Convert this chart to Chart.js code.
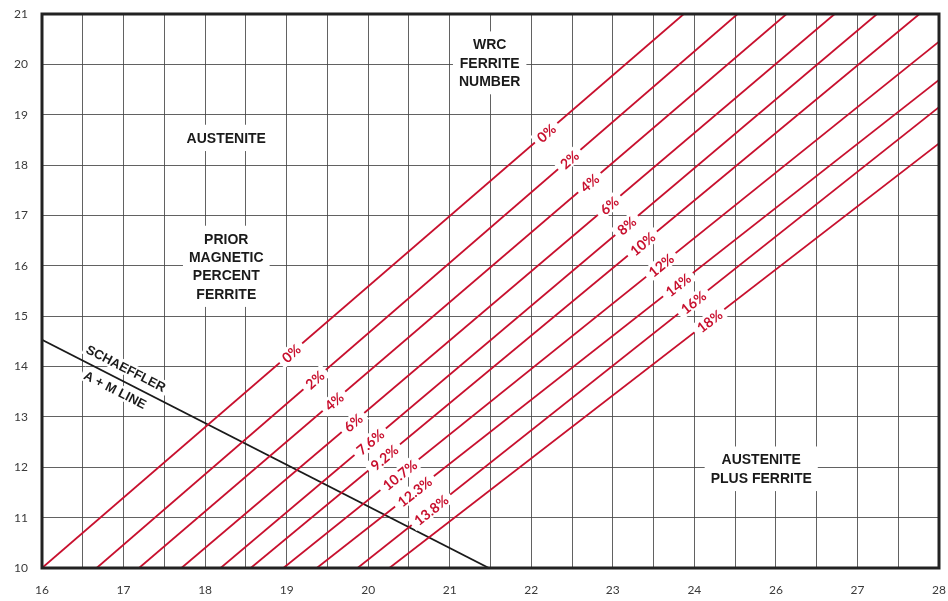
<!DOCTYPE html>
<html>
<head>
<meta charset="utf-8">
<script src="https://cdn.jsdelivr.net/npm/chart.js@4/dist/chart.umd.min.js"></script>
<style>
  html, body { margin: 0; padding: 0; background: #fff; }
  #wrap { width: 948px; height: 601px; }
</style>
</head>
<body>
<div id="wrap"><canvas id="c" width="948" height="601"></canvas></div>
<script>
// Axis tick labels (Nickel equivalent along x, Chromium equivalent along y)
const xTickLabels = ['16', '17', '18', '19', '20', '21', '22', '23', '24', '26', '27', '28'];
const yMin = 10;
const yMax = 21;

// Iso-ferrite lines: start point on the bottom edge, end point on the top or right edge
const lineStartX = [16.00, 16.67, 17.19, 17.71, 18.19, 18.56, 18.96, 19.37, 19.87, 20.26];
const lineEndX   = [23.87, 24.53, 25.13, 25.72, 26.24, 26.76, 27.00, 27.00, 27.00, 27.00];
const lineEndY   = [21.00, 21.00, 21.00, 21.00, 21.00, 21.00, 20.45, 19.69, 19.15, 18.43];

// WRC ferrite number of each line, and the prior magnetic percent ferrite
const wrcLabels   = ['0%', '2%', '4%', '6%', '8%', '10%', '12%', '14%', '16%', '18%'];
const priorLabels = ['0%', '2%', '4%', '6%', '7.6%', '9.2%', '10.7%', '12.3%', '13.8%'];

// Schaeffler austenite + martensite boundary
const schaefflerX = [16.00, 21.48];
const schaefflerY = [14.53, 10.00];

// Diagonal guides along which the two rows of line labels sit
const wrcGuide   = [{ x: 22.15, y: 18.70 }, { x: 24.20, y: 14.88 }];
const priorGuide = [{ x: 19.04, y: 14.29 }, { x: 20.74, y: 11.21 }];

// Region captions
const regionText = [
  { lines: ['AUSTENITE'], x: 18.26, y: 18.54 },
  { lines: ['PRIOR', 'MAGNETIC', 'PERCENT', 'FERRITE'], x: 18.26, y: 15.99 },
  { lines: ['WRC', 'FERRITE', 'NUMBER'], x: 21.49, y: 20.03 },
  { lines: ['AUSTENITE', 'PLUS FERRITE'], x: 24.82, y: 11.97 }
];

const RED = '#c8102e';
const INK = '#1a1a1a';

const datasets = lineStartX.map((sx, i) => ({
  data: [{ x: sx, y: yMin }, { x: lineEndX[i], y: lineEndY[i] }],
  showLine: true,
  borderColor: RED,
  borderWidth: 1.8,
  pointRadius: 0
}));
datasets.push({
  data: schaefflerX.map((x, i) => ({ x, y: schaefflerY[i] })),
  showLine: true,
  borderColor: INK,
  borderWidth: 1.8,
  pointRadius: 0
});

function intersect(a, b, c, d) {
  const r = { x: b.x - a.x, y: b.y - a.y };
  const s = { x: d.x - c.x, y: d.y - c.y };
  const den = r.x * s.y - r.y * s.x;
  const t = ((c.x - a.x) * s.y - (c.y - a.y) * s.x) / den;
  return { x: a.x + t * r.x, y: a.y + t * r.y };
}

function tag(ctx, cx, cy, angle, text, font, color, padX, h) {
  ctx.save();
  ctx.translate(cx, cy);
  ctx.rotate(angle);
  ctx.font = font;
  const w = ctx.measureText(text).width;
  ctx.fillStyle = '#fff';
  ctx.fillRect(-w / 2 - padX, -h / 2, w + 2 * padX, h);
  ctx.fillStyle = color;
  ctx.textAlign = 'center';
  ctx.textBaseline = 'middle';
  ctx.fillText(text, 0, 1);
  ctx.restore();
}

const annotate = {
  id: 'annotate',
  afterDatasetsDraw(chart) {
    const { ctx, scales: { x, y } } = chart;
    const P = (p) => ({ x: x.getPixelForValue(p.x), y: y.getPixelForValue(p.y) });

    // labels on the iso-ferrite lines
    const labelFont = 'bold 14px Lato';
    lineStartX.forEach((sx, i) => {
      const a = P({ x: sx, y: yMin });
      const b = P({ x: lineEndX[i], y: lineEndY[i] });
      const ang = Math.atan2(b.y - a.y, b.x - a.x);
      if (wrcLabels[i]) {
        const p = intersect(a, b, P(wrcGuide[0]), P(wrcGuide[1]));
        tag(ctx, p.x, p.y, ang, wrcLabels[i], labelFont, RED, 5, 15);
      }
      if (priorLabels[i]) {
        const p = intersect(a, b, P(priorGuide[0]), P(priorGuide[1]));
        tag(ctx, p.x, p.y, ang, priorLabels[i], labelFont, RED, 5, 15);
      }
    });

    // Schaeffler line caption, above and below the line
    const s0 = P({ x: schaefflerX[0], y: schaefflerY[0] });
    const s1 = P({ x: schaefflerX[1], y: schaefflerY[1] });
    const sAng = Math.atan2(s1.y - s0.y, s1.x - s0.x);
    const t = 0.175;
    const mx = s0.x + t * (s1.x - s0.x), my = s0.y + t * (s1.y - s0.y);
    const nx = Math.sin(sAng), ny = -Math.cos(sAng);
    const capFont = 'bold 13px "Liberation Sans"';
    tag(ctx, mx + nx * 13, my + ny * 13, sAng, 'SCHAEFFLER', capFont, INK, 3, 14);
    tag(ctx, mx - nx * 11, my - ny * 11, sAng, 'A + M LINE', capFont, INK, 3, 14);

    // region captions with a white backing
    ctx.save();
    ctx.font = 'bold 14px "Liberation Sans"';
    ctx.textAlign = 'center';
    ctx.textBaseline = 'middle';
    const lh = 18.3;
    regionText.forEach((r) => {
      const c = P(r);
      const w = Math.max(...r.lines.map((l) => ctx.measureText(l).width));
      const h = r.lines.length * lh + 8;
      ctx.fillStyle = '#fff';
      ctx.fillRect(c.x - w / 2 - 6, c.y - h / 2, w + 12, h);
      ctx.fillStyle = INK;
      r.lines.forEach((l, k) => {
        ctx.fillText(l, c.x, c.y + (k - (r.lines.length - 1) / 2) * lh + 1);
      });
    });
    ctx.restore();
  },
  afterDraw(chart) {
    const { ctx, chartArea: a } = chart;
    ctx.save();
    ctx.strokeStyle = '#222';
    ctx.lineWidth = 3;
    ctx.strokeRect(a.left, a.top, a.right - a.left, a.bottom - a.top);
    ctx.restore();
  }
};

new Chart(document.getElementById('c'), {
  type: 'scatter',
  data: { datasets },
  options: {
    responsive: false,
    devicePixelRatio: 1,
    animation: false,
    layout: { padding: { top: 14, right: 9, left: 0, bottom: 0 } },
    plugins: { legend: { display: false }, tooltip: { enabled: false } },
    scales: {
      x: {
        type: 'linear',
        min: 16,
        max: 27,
        afterFit: (s) => { s.height = 33; s.paddingLeft = 0; s.paddingRight = 0; },
        border: { display: false },
        grid: { color: 'rgba(70,70,70,0.85)', lineWidth: 1, drawTicks: false },
        ticks: {
          stepSize: 0.5,
          autoSkip: false,
          maxRotation: 0,
          padding: 15,
          color: '#3a3a3a',
          font: { family: 'Lato', size: 12 },
          callback: (v) => (Number.isInteger(v) ? xTickLabels[v - 16] : '')
        }
      },
      y: {
        type: 'linear',
        min: yMin,
        max: yMax,
        afterFit: (s) => { s.width = 42; s.paddingTop = 0; s.paddingBottom = 0; },
        border: { display: false },
        grid: { color: 'rgba(70,70,70,0.85)', lineWidth: 1, drawTicks: false },
        ticks: {
          stepSize: 1,
          padding: 14,
          color: '#3a3a3a',
          font: { family: 'Lato', size: 12 }
        }
      }
    }
  },
  plugins: [annotate]
});
</script>
</body>
</html>
